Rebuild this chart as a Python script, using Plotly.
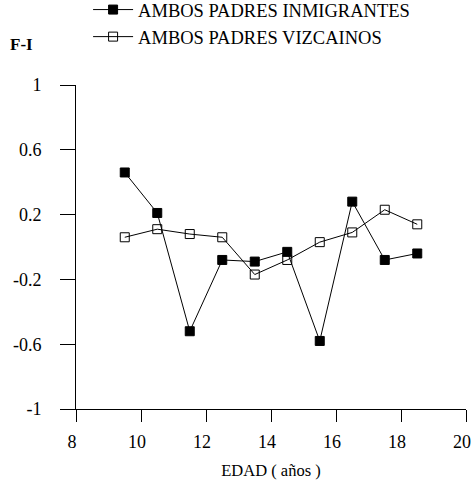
import plotly.graph_objects as go

# Age (years) and F-I index by parental origin
edad = [9.5, 10.5, 11.5, 12.5, 13.5, 14.5, 15.5, 16.5, 17.5, 18.5]
inmigrantes = [0.46, 0.21, -0.52, -0.08, -0.09, -0.03, -0.58, 0.28, -0.08, -0.04]
vizcainos = [0.06, 0.11, 0.08, 0.06, -0.17, -0.08, 0.03, 0.09, 0.23, 0.14]

x_ticks = [8, 10, 12, 14, 16, 18, 20]
y_ticks = [1, 0.6, 0.2, -0.2, -0.6, -1]
y_tick_text = ["1", "0.6", "0.2", "-0.2", "-0.6", "-1"]

FONT = "Liberation Serif"


def serif(size):
    return dict(family=FONT, size=size, color="black")


fig = go.Figure()
fig.add_trace(go.Scatter(
    x=edad, y=inmigrantes, mode="lines+markers",
    name="AMBOS PADRES INMIGRANTES",
    line=dict(color="black", width=1),
    marker=dict(symbol="square", size=9, color="black",
                line=dict(color="black", width=1)),
))
fig.add_trace(go.Scatter(
    x=edad, y=vizcainos, mode="lines+markers",
    name="AMBOS PADRES VIZCAINOS",
    line=dict(color="black", width=1),
    marker=dict(symbol="square-open", size=9, color="black",
                line=dict(color="black", width=1)),
))

fig.update_layout(
    template="none",
    width=472, height=480,
    margin=dict(l=76, r=6, t=85, b=71, autoexpand=False),
    paper_bgcolor="white", plot_bgcolor="white",
    font=serif(17),
    showlegend=True,
    legend=dict(
        x=0.031, y=1.29, xanchor="left", yanchor="top",
        bgcolor="rgba(0,0,0,0)", borderwidth=0, font=serif(18.5),
        itemwidth=40, tracegroupgap=0,
    ),
    xaxis=dict(
        range=[8, 20], tickvals=x_ticks,
        ticktext=[str(v) for v in x_ticks],
        showgrid=False, zeroline=False, showline=True, linecolor="black",
        linewidth=1, ticks="outside", ticklen=12, tickcolor="black", tickwidth=1,
        tickfont=serif(18), ticklabeloverflow="allow", ticklabelstandoff=4,
        ticklabelshift=-4, automargin=False,
        title=dict(text="EDAD ( años )", font=serif(16.5), standoff=16),
    ),
    yaxis=dict(
        range=[-1, 1], tickvals=y_ticks, ticktext=y_tick_text,
        showgrid=False, zeroline=False, showline=True, linecolor="black",
        linewidth=1, ticks="outside", ticklen=15, tickcolor="black", tickwidth=1,
        tickfont=serif(18), ticklabelstandoff=15, automargin=False,
    ),
    annotations=[dict(
        text="<b>F-I</b>", xref="paper", yref="paper", x=-0.175, y=1.126,
        xanchor="left", yanchor="middle", showarrow=False,
        font=serif(17),
    )],
)

fig.write_html("out.html")
